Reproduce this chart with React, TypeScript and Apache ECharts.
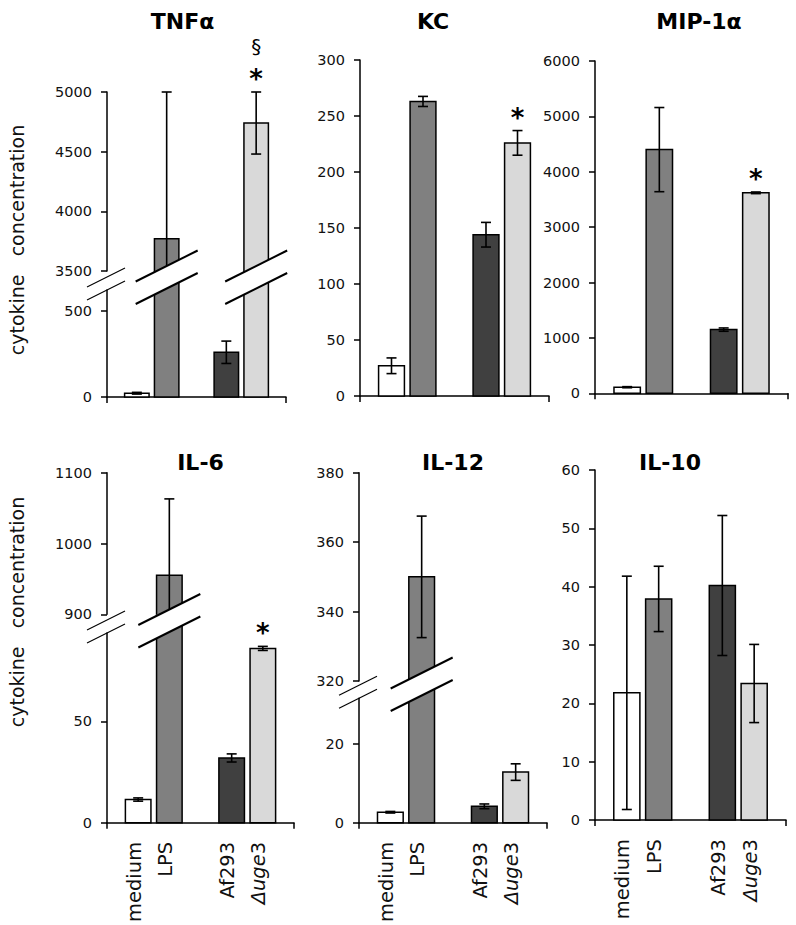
import React, { useEffect, useRef } from 'react';
import * as echarts from 'echarts';

const FONT = "'DejaVu Sans', sans-serif";

// ---------- data ----------
const categories = ['medium', 'LPS', 'Af293', 'Δuge3'];
const slotPositions = [1, 2, 4, 5];
const barColors = ['#ffffff', '#808080', '#404040', '#d9d9d9'];
const yAxisName = 'cytokine   concentration';

const tnfMean = [22, 3770, 260, 4740];
const tnfErr = [5, 1230, 65, 260];
const tnfMarks = [[], [], [], ['*', '§']];
const tnfTicksLower = [0, 500];
const tnfTicksUpper = [3500, 4000, 4500, 5000];

const kcMean = [27, 263, 144, 226];
const kcErr = [7, 4.5, 11, 11];
const kcMarks = [[], [], [], ['*']];
const kcTicks = [0, 50, 100, 150, 200, 250, 300];

const mipMean = [110, 4400, 1150, 3620];
const mipErr = [10, 760, 30, 15];
const mipMarks = [[], [], [], ['*']];
const mipTicks = [0, 1000, 2000, 3000, 4000, 5000, 6000];

const il6Mean = [11.5, 955, 32, 86];
const il6Err = [0.8, 108, 2, 1];
const il6Marks = [[], [], [], ['*']];
const il6TicksLower = [0, 50];
const il6TicksUpper = [900, 1000, 1100];

const il12Mean = [2.7, 350, 4.2, 12.9];
const il12Err = [0.2, 17.5, 0.6, 2.1];
const il12Marks = [[], [], [], []];
const il12TicksLower = [0, 20];
const il12TicksUpper = [320, 340, 360, 380];

const il10Mean = [21.8, 37.9, 40.2, 23.4];
const il10Err = [20, 5.6, 12, 6.7];
const il10Marks = [[], [], [], []];
const il10Ticks = [0, 10, 20, 30, 40, 50, 60];

// ---------- layout ----------
type Seg = { top: number; bottom: number; min: number; max: number; ticks: number[] };
type Panel = {
  title: string;
  mean: number[];
  err: number[];
  marks: string[][];
  left: number;
  right: number;
  titleX: number;
  titleY: number;
  showLabels: boolean;
  segments: Seg[];
  breakBars: number[];
  bandY: number;
  yNameY: number | null;
};

const panels: Panel[] = [
  {
    title: 'TNFα', mean: tnfMean, err: tnfErr, marks: tnfMarks,
    left: 107, right: 286, titleX: 182.5, titleY: 21.5, showLabels: false,
    segments: [
      { top: 290, bottom: 397, min: 0, max: 622, ticks: tnfTicksLower },
      { top: 92, bottom: 271, min: 3500, max: 5000, ticks: tnfTicksUpper },
    ],
    breakBars: [1, 3], bandY: 266, yNameY: 240,
  },
  {
    title: 'KC', mean: kcMean, err: kcErr, marks: kcMarks,
    left: 360, right: 549, titleX: 433, titleY: 21, showLabels: false,
    segments: [{ top: 60, bottom: 396, min: 0, max: 300, ticks: kcTicks }],
    breakBars: [], bandY: 0, yNameY: null,
  },
  {
    title: 'MIP-1α', mean: mipMean, err: mipErr, marks: mipMarks,
    left: 595, right: 788, titleX: 699, titleY: 21.5, showLabels: false,
    segments: [{ top: 61, bottom: 393.3, min: 0, max: 6000, ticks: mipTicks }],
    breakBars: [], bandY: 0, yNameY: null,
  },
  {
    title: 'IL-6', mean: il6Mean, err: il6Err, marks: il6Marks,
    left: 107, right: 294, titleX: 200.5, titleY: 462.5, showLabels: true,
    segments: [
      { top: 633, bottom: 823.3, min: 0, max: 93.6, ticks: il6TicksLower },
      { top: 472.7, bottom: 614.3, min: 900, max: 1100, ticks: il6TicksUpper },
    ],
    breakBars: [1], bandY: 609.5, yNameY: 612,
  },
  {
    title: 'IL-12', mean: il12Mean, err: il12Err, marks: il12Marks,
    left: 359, right: 547, titleX: 453, titleY: 462.5, showLabels: true,
    segments: [
      { top: 698.3, bottom: 823.3, min: 0, max: 31.65, ticks: il12TicksLower },
      { top: 472.7, bottom: 681, min: 320, max: 380, ticks: il12TicksUpper },
    ],
    breakBars: [1], bandY: 673, yNameY: null,
  },
  {
    title: 'IL-10', mean: il10Mean, err: il10Err, marks: il10Marks,
    left: 595, right: 786, titleX: 670, titleY: 462, showLabels: true,
    segments: [{ top: 470, bottom: 820, min: 0, max: 60, ticks: il10Ticks }],
    breakBars: [], bandY: 0, yNameY: null,
  },
];

const AXIS_COLOR = '#000';
const TEXT_COLOR = '#111';

function labelFor(value: number): string {
  const idx = slotPositions.indexOf(value);
  if (idx < 0) return '';
  const name = categories[idx];
  const m = name.match(/^(Δ[a-z]+)(\d+)$/);
  if (m) return `{it|${m[1]}}{n|${m[2]}}`;
  return name;
}

function makeRender(p: Panel, si: number) {
  const seg = p.segments[si];
  const broken = p.segments.length > 1;
  const isLower = si === 0;
  return (_params: any, api: any) => {
    const x = api.value(0);
    const v = api.value(1);
    const e = api.value(2);
    const i = api.value(3);
    const w = api.size([0.82, 0])[0];
    const base = api.coord([x, seg.min]);
    const cx = base[0];
    const basePx = base[1];
    const l = cx - w / 2;
    const r = cx + w / 2;
    const fill = barColors[i];
    const edge = { stroke: '#000', lineWidth: 1.5, fill: null };
    const children: any[] = [];
    if (isLower && !(broken && v > seg.max)) {
      const topPx = api.coord([x, v])[1];
      children.push({
        type: 'rect',
        shape: { x: l, y: topPx, width: w, height: basePx - topPx },
        style: { fill, stroke: '#000', lineWidth: 1.5 },
      });
    } else if (isLower) {
      const topPx = p.segments[1].bottom;
      children.push({ type: 'rect', shape: { x: l, y: topPx, width: w, height: basePx - topPx }, style: { fill } });
      children.push({ type: 'polyline', shape: { points: [[l, topPx], [l, basePx], [r, basePx], [r, topPx]] }, style: edge });
    } else if (v > seg.min) {
      const topPx = api.coord([x, Math.min(v, seg.max)])[1];
      children.push({ type: 'rect', shape: { x: l, y: topPx, width: w, height: basePx - topPx }, style: { fill } });
      children.push({ type: 'polyline', shape: { points: [[l, basePx], [l, topPx], [r, topPx], [r, basePx]] }, style: edge });
    }
    if (v >= seg.min && v <= seg.max) {
      const hiV = Math.min(v + e, seg.max);
      const loV = Math.max(v - e, seg.min);
      const hi = api.coord([x, hiV])[1];
      const lo = api.coord([x, loV])[1];
      const ls = { stroke: '#000', lineWidth: 1.6 };
      children.push({ type: 'line', shape: { x1: cx, y1: lo, x2: cx, y2: hi }, style: ls });
      if (v + e <= seg.max + 1e-9) children.push({ type: 'line', shape: { x1: cx - 5, y1: hi, x2: cx + 5, y2: hi }, style: ls });
      if (v - e >= seg.min) children.push({ type: 'line', shape: { x1: cx - 5, y1: lo, x2: cx + 5, y2: lo }, style: ls });
      (p.marks[i] || []).forEach((m, k) => {
        const star = m === '*';
        children.push({
          type: 'text',
          x: cx,
          y: hi - 13 - k * 33,
          style: {
            text: m,
            fill: '#000',
            fontFamily: FONT,
            fontSize: star ? 26 : 20,
            fontWeight: star ? 'bold' : 'normal',
            align: 'center',
            verticalAlign: 'middle',
          },
        });
      });
    }
    return { type: 'group', children };
  };
}

function buildOption() {
  const grid: any[] = [];
  const xAxis: any[] = [];
  const yAxis: any[] = [];
  const series: any[] = [];
  const graphic: any[] = [];
  let g = 0;
  panels.forEach((p) => {
    p.segments.forEach((seg, si) => {
      const isLower = si === 0;
      grid.push({ left: p.left, top: seg.top, width: p.right - p.left, height: seg.bottom - seg.top, containLabel: false });
      xAxis.push({
        gridIndex: g,
        type: 'value',
        min: 0,
        max: 6,
        show: isLower,
        axisLine: { show: true, onZero: false, lineStyle: { color: AXIS_COLOR, width: 1.5 } },
        axisTick: { show: true, customValues: [0, 6], length: 6, lineStyle: { color: AXIS_COLOR, width: 1.5 } },
        axisLabel: p.showLabels
          ? {
              show: true,
              customValues: slotPositions,
              rotate: 90,
              margin: 19,
              padding: [0, 0, 8, 0],
              fontFamily: FONT,
              fontSize: 19.5,
              color: TEXT_COLOR,
              formatter: (val: number) => labelFor(val),
              rich: {
                it: { fontStyle: 'italic', fontFamily: FONT, fontSize: 19.5, color: TEXT_COLOR },
                n: { fontFamily: FONT, fontSize: 19.5, color: TEXT_COLOR },
              },
            }
          : { show: false },
        splitLine: { show: false },
      });
      yAxis.push({
        gridIndex: g,
        type: 'value',
        min: seg.min,
        max: seg.max,
        axisLine: { show: true, lineStyle: { color: AXIS_COLOR, width: 1.5 } },
        axisTick: { show: true, customValues: seg.ticks, length: 6, lineStyle: { color: AXIS_COLOR, width: 1.5 } },
        axisLabel: {
          show: true,
          customValues: seg.ticks,
          margin: 15,
          fontFamily: FONT,
          fontSize: 14.5,
          color: TEXT_COLOR,
          formatter: (val: number) => String(val),
        },
        splitLine: { show: false },
      });
      series.push({
        type: 'custom',
        xAxisIndex: g,
        yAxisIndex: g,
        clip: false,
        silent: true,
        data: p.mean.map((m, i) => [slotPositions[i], m, p.err[i], i]),
        encode: { x: 0, y: 1 },
        renderItem: makeRender(p, si),
      });
      g++;
    });

    graphic.push({
      type: 'text',
      x: p.titleX,
      y: p.titleY,
      z: 100,
      style: {
        text: p.title,
        fill: '#000',
        fontFamily: FONT,
        fontSize: 22,
        fontWeight: 'bold',
        align: 'center',
        verticalAlign: 'middle',
      },
    });

    if (p.yNameY !== null) {
      graphic.push({
        type: 'text',
        x: 17,
        y: p.yNameY,
        rotation: Math.PI / 2,
        z: 100,
        style: {
          text: yAxisName,
          fill: TEXT_COLOR,
          fontFamily: FONT,
          fontSize: 19,
          align: 'center',
          verticalAlign: 'middle',
        },
      });
    }

    if (p.segments.length > 1) {
      const unit = (p.right - p.left) / 6;
      const lowerTop = p.segments[0].top;
      // axis break marks
      [lowerTop - 13, lowerTop].forEach((yk) => {
        graphic.push({
          type: 'line',
          z: 101,
          shape: { x1: p.left - 20, y1: yk + 10, x2: p.left + 18, y2: yk - 9 },
          style: { stroke: '#000', lineWidth: 1.2 },
        });
      });
      // bar break bands
      p.breakBars.forEach((b) => {
        const cx = p.left + slotPositions[b] * unit;
        const y1 = p.bandY;
        const gap = 22.5;
        graphic.push({
          type: 'polygon',
          z: 100,
          shape: {
            points: [
              [cx - 31, y1 + 15.5],
              [cx + 31, y1 - 15.5],
              [cx + 31, y1 - 15.5 + gap],
              [cx - 31, y1 + 15.5 + gap],
            ],
          },
          style: { fill: '#ffffff' },
        });
        [0, gap].forEach((d) => {
          graphic.push({
            type: 'line',
            z: 101,
            shape: { x1: cx - 31, y1: y1 + 15.5 + d, x2: cx + 31, y2: y1 - 15.5 + d },
            style: { stroke: '#000', lineWidth: 2 },
          });
        });
      });
    }
  });

  return {
    animation: false,
    backgroundColor: '#ffffff',
    textStyle: { fontFamily: FONT },
    grid,
    xAxis,
    yAxis,
    series,
    graphic,
  };
}

export default function App() {
  const ref = useRef<HTMLDivElement>(null);
  useEffect(() => {
    if (!ref.current) return;
    const chart = echarts.init(ref.current, null, { renderer: 'svg', width: 796, height: 925 });
    chart.setOption(buildOption() as any);
    return () => {
      chart.dispose();
    };
  }, []);
  return (
    <div
      ref={ref}
      style={{ position: 'absolute', left: 0, top: 0, width: 796, height: 925, background: '#fff' }}
    />
  );
}
